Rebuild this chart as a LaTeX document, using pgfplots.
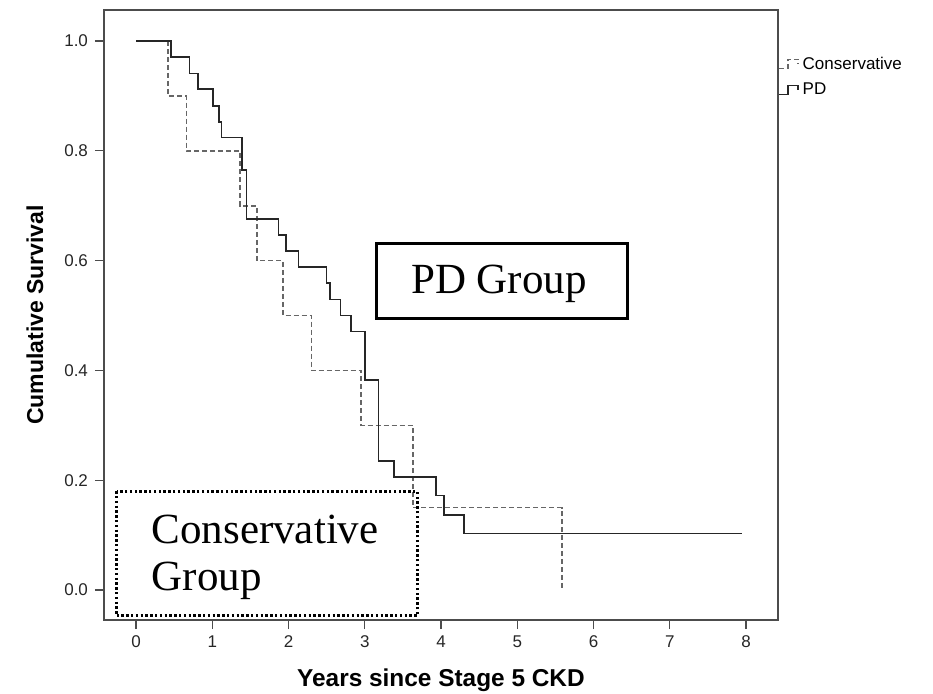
\documentclass[border=0pt]{standalone}
\usepackage{pgfplots}
\pgfplotsset{compat=1.18}
\usepackage{fontspec}
\setmainfont{Liberation Sans}
\newfontfamily\serifx{Liberation Serif}
\begin{document}
\begin{tikzpicture}
\begin{axis}[
  scale only axis, width=337pt, height=305pt,
  xmin=-0.42, xmax=8.42, ymin=-0.0546, ymax=1.0565,
  xtick={0,1,2,3,4,5,6,7,8},
  ytick={0,0.2,0.4,0.6,0.8,1.0},
  yticklabel style={/pgf/number format/.cd, fixed, fixed zerofill, precision=1},
  /pgf/number format/assume math mode=true,
  tick pos=left, tick align=outside, major tick length=4.5pt,
  tick style={black!70, line width=0.6pt},
  axis line style={black!70, line width=0.8pt},
  ticklabel style={font=\fontsize{8.5}{10}\selectfont, text=black!85},
  xlabel={Years since Stage 5 CKD},
  ylabel={Cumulative Survival},
  every axis x label/.style={at={(rel axis cs:0.5,0)}, yshift=-30pt, anchor=center, font=\fontsize{12.2}{14}\selectfont\bfseries},
  every axis y label/.style={at={(rel axis cs:0,0.5)}, xshift=-34.5pt, rotate=90, anchor=center, font=\fontsize{11.5}{13}\selectfont\bfseries},
  legend style={at={(rel axis cs:1,0.93)}, anchor=north west, draw=none, fill=none,
    inner sep=0pt, outer sep=0pt, font=\fontsize{8.5}{10}\selectfont, row sep=1.5pt,
    /tikz/every even column/.append style={column sep=0pt}},
  legend cell align=left,
  legend image code/.code={\draw[#1] (0pt,-2pt) -- (4.5pt,-2pt) -- (4.5pt,2.5pt) -- (9.5pt,2.5pt) -- (9.5pt,0pt);},
  clip=false,
]
\addplot[const plot, color=black!60, line width=0.8pt, dash pattern=on 2.5pt off 1.5pt] coordinates {
 (0,1) (0.42,0.9) (0.66,0.8) (1.36,0.7) (1.59,0.6) (1.93,0.5) (2.30,0.4) (2.95,0.3) (3.63,0.15) (5.59,0.0)
};
\addlegendentry{Conservative}
\addplot[const plot, color=black!85, line width=0.85pt] coordinates {
 (0,1) (0.46,0.971) (0.70,0.941) (0.81,0.912) (1.01,0.882) (1.09,0.853) (1.12,0.824)
 (1.39,0.765) (1.45,0.676) (1.87,0.647) (1.97,0.618) (2.13,0.588) (2.50,0.559) (2.54,0.529)
 (2.68,0.500) (2.82,0.471) (3.00,0.382) (3.18,0.235) (3.38,0.206) (3.93,0.172) (4.04,0.137)
 (4.30,0.103) (7.95,0.103)
};
\addlegendentry{PD}
\draw[line width=1.5pt] (axis cs:3.16,0.632) rectangle (axis cs:6.44,0.495);
\node[anchor=base, inner sep=0pt, font=\serifx\fontsize{21.5}{24}\selectfont] at (axis cs:4.76,0.541) {PD Group};
\draw[line width=1.4pt, dash pattern=on 1.2pt off 1.2pt] (axis cs:-0.256,0.180) rectangle (axis cs:3.69,-0.047);
\node[anchor=base west, inner sep=0pt, font=\serifx\fontsize{21.5}{24}\selectfont] at (axis cs:0.20,0.0856) {Conservative};
\node[anchor=base west, inner sep=0pt, font=\serifx\fontsize{21.5}{24}\selectfont] at (axis cs:0.20,0.0) {Group};
\end{axis}
\pgfresetboundingbox
\path (-52pt,-36.5pt) rectangle (414.5pt,310pt);
\end{tikzpicture}
\end{document}
